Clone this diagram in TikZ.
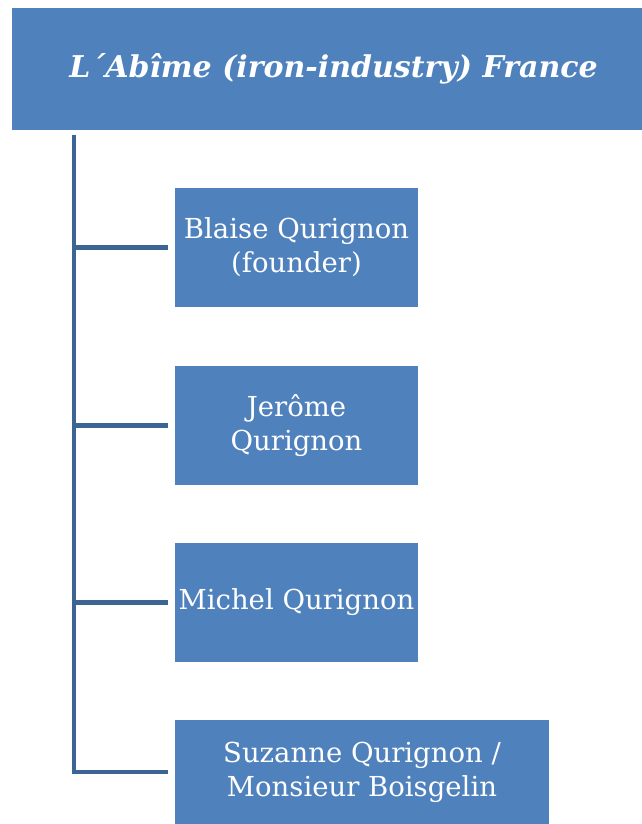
\documentclass[tikz,border=0pt]{standalone}
\usepackage{fontspec}
\setmainfont{DejaVu Serif}
\definecolor{boxblue}{HTML}{4F81BD}
\definecolor{lineblue}{HTML}{3C6494}
\begin{document}
\begin{tikzpicture}[x=1pt,y=-1pt,
  box/.style={fill=boxblue,draw=none,text=white,align=center,inner sep=0pt,font=\fontsize{27.5}{34}\selectfont},
  conn/.style={draw=lineblue,line width=4.5pt}]
\useasboundingbox (0,0) rectangle (642,824);
\node[box,minimum width=630pt,minimum height=122pt,font=\fontsize{30}{36}\selectfont\bfseries\itshape] (title) at (327,69) {\hspace*{13pt}L´Abîme (iron-industry) France};
\node[box,minimum width=243pt,minimum height=119pt] (b1) at (296.5,247.5) {Blaise Qurignon\\(founder)};
\node[box,minimum width=243pt,minimum height=119pt] (b2) at (296.5,425.5) {Jerôme\\Qurignon};
\node[box,minimum width=243pt,minimum height=119pt] (b3) at (296.5,602.5) {Michel Qurignon};
\node[box,minimum width=374pt,minimum height=104pt] (b4) at (362,772) {Suzanne Qurignon /\\Monsieur Boisgelin};
\coordinate (top) at (74,135);
\coordinate (e4) at ([xshift=-7pt]b4.west);
\draw[conn] (top) |- (e4);
\foreach \n in {b1,b2,b3}{
  \draw[conn] (top |- \n.west) -- ([xshift=-7pt]\n.west);
}
\end{tikzpicture}
\end{document}
